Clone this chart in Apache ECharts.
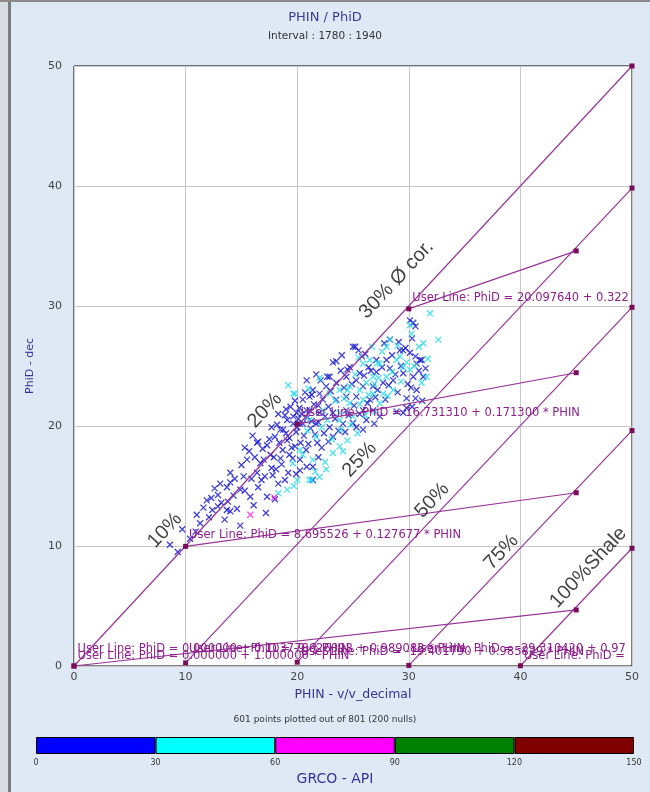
<!DOCTYPE html>
<html>
<head>
<meta charset="utf-8">
<script src="https://cdn.jsdelivr.net/npm/echarts@6.0.0/dist/echarts.min.js"></script>
<style>
html, body { margin: 0; padding: 0; background: #dfe9f5; }
#main { width: 650px; height: 792px; }
</style>
</head>
<body>
<div id="main"></div>
<script>
// GRCO 0-30 (blue)
var blueData = [
[8.6,10.1],[9.3,9.5],[9.7,11.4],[10.4,10.6],[11.3,11.9],[11.6,13.2],[12.1,12.4],[12.3,14.0],[12.6,14.8],[12.9,14.25],
[12.9,13.3],[13.2,13.6],[13.7,13.0],[13.7,14.9],[13.8,13.7],[14.0,12.9],[14.0,15.3],[14.0,16.1],[14.3,14.2],[14.9,11.7],
[14.9,14.7],[15.0,16.75],[15.2,15.8],[15.7,17.9],[15.8,14.1],[16.4,16.1],[16.4,18.6],[16.5,14.9],[16.5,18.7],[16.7,16.9],
[17.2,12.75],[17.3,14.1],[17.3,18.4],[17.6,17.6],[17.7,16.5],[17.7,19.9],[17.9,17.4],[18.0,19.1],[18.2,20.1],[18.3,15.2],
[18.4,18.6],[18.5,17.3],[18.5,19.7],[18.7,18.0],[18.75,19.7],[18.9,15.5],[18.9,20.9],[19.0,19.4],[19.1,18.8],[19.1,20.5],
[19.2,16.1],[19.3,17.6],[19.4,21.6],[19.5,18.2],[19.65,20.2],[19.65,20.8],[19.8,18.3],[19.8,22.1],[19.9,19.5],[19.95,21.1],
[20.1,20.6],[20.2,21.5],[20.25,16.3],[20.25,17.2],[20.25,20.2],[20.5,20.2],[20.5,22.2],[20.6,19.2],[20.8,18.0],[20.85,16.6],
[20.85,21.3],[20.85,23.8],[20.9,20.7],[21.1,21.3],[21.1,22.45],[21.2,19.8],[21.3,22.6],[21.4,15.5],[21.4,16.6],[21.4,23.0],
[21.5,21.8],[21.7,20.2],[21.8,18.6],[21.9,20.3],[22.0,21.1],[22.0,22.7],[22.3,22.2],[22.4,19.4],[22.6,23.3],[22.7,24.1],
[22.9,19.9],[22.9,24.1],[23.2,19.1],[23.2,21.1],[23.2,25.3],[23.5,22.2],[23.5,23.6],[23.5,25.4],[24.1,20.2],[24.4,21.3],
[24.4,22.45],[24.4,24.1],[24.5,24.7],[24.7,24.9],[25.0,20.25],[25.0,26.6],[25.2,26.6],[25.3,19.9],[25.3,22.45],[25.3,23.8],
[25.5,26.3],[25.6,24.4],[25.9,19.7],[25.9,21.3],[25.9,23.3],[26.2,20.5],[26.4,24.9],[26.5,22.2],[26.8,21.3],[26.8,23.3],
[27.1,24.5],[27.1,25.5],[27.2,23.0],[27.7,23.6],[28.0,25.5],[28.3,24.8],[28.3,27.2],[28.6,23.8],[29.2,26.3],[29.5,21.1],
[29.5,24.4],[29.5,26.3],[29.7,26.5],[29.8,21.5],[29.8,22.3],[30.1,26.1],[30.1,28.8],[30.4,24.1],[30.4,28.6],[30.6,22.3],
[30.6,25.8],[30.6,28.3],[30.7,23.0],[30.7,25.2],[31.0,25.5],[31.15,25.5],[31.3,24.1],
[10.9,11.2],[11.0,12.6],[11.9,13.8],[12.4,13.0],[13.1,15.2],[13.5,12.2],[14.4,15.6],[14.6,13.1],[15.3,14.6],[15.5,17.2],
[15.9,15.6],[16.1,13.4],[16.2,17.4],[16.8,15.5],[16.9,18.1],[17.0,17.2],[17.1,15.8],[17.5,18.9],[17.8,15.9],[18.1,16.4],
[18.3,21.0],[18.6,16.8],[19.0,21.4],[19.3,19.0],[19.6,17.3],[20.0,19.9],[20.3,18.6],[20.4,21.0],[20.7,22.8],[21.0,18.5],
[21.3,20.4],[21.6,19.3],[21.9,21.7],[22.2,18.2],[22.5,20.8],[22.8,21.6],[23.0,22.9],[23.4,20.6],[23.7,19.6],[23.9,24.6],
[24.2,23.2],[24.6,20.9],[24.9,23.5],[25.1,21.7],[25.6,21.0],[25.8,25.8],[26.0,24.2],[26.3,21.9],[26.6,24.6],[27.0,22.4],
[27.4,20.8],[27.6,24.9],[27.9,22.2],[28.2,23.4],[28.5,25.9],[28.8,24.3],[29.0,22.8],[29.3,25.0],[29.9,23.5],[30.2,23.2],
[30.9,24.6],[31.5,24.8],[22.1,23.8],[21.7,24.3],[24.0,25.9],[26.1,26.0],[27.8,26.9],[29.1,27.0],[30.3,27.3],[18.0,13.9],
[19.9,16.0],[21.9,17.4],[22.8,18.7],[24.3,19.5],[26.9,20.2],[28.9,21.2],[31.2,22.1],[30.3,21.6],[16.0,19.2],[15.3,18.2]
];
// GRCO 30-60 (cyan)
var cyanData = [
[19.1,14.7],[19.2,23.4],[19.6,16.9],[19.65,22.7],[19.8,22.7],[20.0,15.5],[20.25,18.0],[21.1,15.5],[21.1,20.5],[21.3,15.5],
[21.4,17.2],[21.7,19.1],[22.0,15.75],[22.3,21.3],[22.5,17.0],[22.7,20.5],[22.9,22.7],[23.2,17.75],[23.8,18.3],[23.8,20.5],
[23.8,21.1],[23.8,23.0],[24.5,18.8],[24.5,23.0],[24.7,21.9],[24.7,23.3],[25.0,20.8],[25.4,19.4],[25.6,23.0],[25.9,22.2],
[25.9,25.2],[26.2,23.6],[26.5,25.5],[26.8,22.7],[26.8,24.1],[27.2,25.25],[27.4,21.9],[27.4,25.2],[27.7,22.7],[28.0,24.1],
[28.0,26.6],[28.3,27.2],[28.6,23.0],[28.9,25.5],[29.2,25.8],[29.5,24.9],[30.1,24.7],[30.1,28.4],[30.25,27.7],[31.15,23.6],
[31.6,24.1],[31.9,29.4],[32.65,27.2],
[20.5,17.6],[20.9,19.6],[21.6,16.2],[22.2,19.9],[22.6,16.4],[23.1,18.9],[23.4,22.1],[23.9,19.7],[24.2,22.3],[24.8,20.1],
[25.2,24.3],[25.6,21.8],[26.1,20.9],[26.4,22.6],[26.9,23.5],[27.3,24.0],[27.6,26.2],[28.1,22.5],[28.5,24.5],[29.0,26.7],
[29.3,23.7],[29.8,25.3],[30.5,25.0],[30.9,26.6],[31.3,26.9],[31.7,25.6],[22.0,24.0],[21.0,23.1],[25.5,25.7],[26.7,26.6],
[18.3,14.4],[19.7,15.0],[24.1,17.9],[27.0,21.2]
];
// GRCO 60-90 (magenta)
var magentaData = [[15.8,12.6],[17.95,14.05]];

// user lines: start point, end point, label
var lineStart = [[30,29.76],[20,20.16],[10,9.97],[0,0],[0,0],[10,0.26],[20,0.32],[30,0.05],[40,0.02]];
var lineEnd = [[45,34.59],[45,24.44],[45,14.44],[45,4.67],[50,50],[50,39.83],[50,29.89],[50,19.62],[50,9.81]];
var lineText = [
  'User Line: PhiD = 20.097640 + 0.322039 * PHIN',
  'User Line: PhiD = 16.731310 + 0.171300 * PHIN',
  'User Line: PhiD = 8.695526 + 0.127677 * PHIN',
  'User Line: PhiD = 0.000000 + 0.103778 * PHIN',
  'User Line: PhiD = 0.000000 + 1.000000 * PHIN',
  'User Line: PhiD = -9.626098 + 0.989082 * PHIN',
  'User Line: PhiD = -19.401790 + 0.985829 * PHIN',
  'User Line: PhiD = -29.310420 + 0.978650 * PHIN',
  'User Line: PhiD = -39.184650 + 0.979980 * PHIN'
];
var lineLabelDy = [-11, -11, -11, -17, -10, -14, -10, -16, -10];

// rotated annotations
var annoText = ['10%', '20%', '25%', '30% Ø cor.', '50%', '75%', '100%Shale'];
var annoX = [8.15, 17.1, 25.6, 28.9, 32.1, 38.3, 46.1];
var annoY = [11.3, 21.3, 17.2, 32.2, 13.8, 9.5, 8.2];

// GRCO colour bar
var grLimits = [0, 30, 60, 90, 120, 150];
var grColors = ['#0000ff', '#00ffff', '#ff00ff', '#008000', '#800000'];

var plotLeft = 74, plotTop = 66, plotW = 558, plotH = 600;
var crossPath = 'path://M0,0L10,10M10,0L0,10';
var lineColor = '#973597';
var markColor = '#7a0a5a';

var myChart = echarts.init(document.getElementById('main'));

var series = [];
function scatterSeries(data, col) {
    return {
        type: 'scatter',
        data: data,
        symbol: crossPath,
        symbolSize: 6,
        itemStyle: { color: 'none', borderColor: col, borderWidth: 1.3 },
        z: 2
    };
}
series.push(scatterSeries(blueData, '#1010d0'));
series.push(scatterSeries(cyanData, '#1fdbe6'));
series.push(scatterSeries(magentaData, '#ff22d0'));

for (var i = 0; i < lineStart.length; i++) {
    var sx = plotLeft + lineStart[i][0] / 50 * plotW;
    series.push({
        type: 'line',
        z: 4,
        symbol: 'rect',
        symbolSize: 5,
        showAllSymbol: true,
        lineStyle: { color: lineColor, width: 1.2 },
        itemStyle: { color: markColor },
        data: [
            {
                value: lineStart[i],
                label: {
                    show: true,
                    position: 'right',
                    distance: 1,
                    offset: [0, lineLabelDy[i]],
                    formatter: lineText[i],
                    color: '#8e1f8e',
                    fontSize: 11.5,
                    fontFamily: 'DejaVu Sans',
                    width: plotLeft + plotW - sx - 2,
                    overflow: 'truncate',
                    ellipsis: ''
                }
            },
            lineEnd[i]
        ]
    });
}

var annoData = [];
for (var j = 0; j < annoText.length; j++) {
    annoData.push({ name: annoText[j], value: [annoX[j], annoY[j]] });
}
series.push({
    type: 'scatter',
    symbolSize: 0,
    z: 6,
    data: annoData,
    label: {
        show: true,
        position: 'inside',
        formatter: '{b}',
        rotate: 47,
        color: '#111',
        fontSize: 20,
        fontFamily: 'Liberation Sans'
    }
});

for (var k = 0; k < grColors.length; k++) {
    series.push({
        type: 'bar',
        xAxisIndex: 1,
        yAxisIndex: 1,
        stack: 'gr',
        barWidth: 17,
        data: [grLimits[k + 1] - grLimits[k]],
        itemStyle: { color: grColors[k], borderColor: '#000', borderWidth: 1 }
    });
}

myChart.setOption({
    animation: false,
    backgroundColor: '#dfe9f5',
    title: [
        {
            text: 'PHIN / PhiD',
            subtext: 'Interval : 1780 : 1940',
            left: 'center',
            top: 6,
            itemGap: 7,
            textStyle: { color: '#3a3a9c', fontSize: 13, fontWeight: 'normal', fontFamily: 'DejaVu Sans' },
            subtextStyle: { color: '#333', fontSize: 10.5, fontFamily: 'DejaVu Sans' }
        },
        {
            text: '601 points plotted out of 801 (200 nulls)',
            left: 'center',
            top: 710,
            textStyle: { color: '#333', fontSize: 9, fontWeight: 'normal', fontFamily: 'DejaVu Sans' }
        }
    ],
    graphic: [
        { type: 'rect', shape: { x: 0, y: 0, width: 8, height: 792 }, style: { fill: '#d8dde3' } },
        { type: 'rect', shape: { x: 8, y: 0, width: 3, height: 792 }, style: { fill: '#7c7c7c' } },
        { type: 'rect', shape: { x: 0, y: 0, width: 650, height: 2 }, style: { fill: '#8a8a8a' } }
    ],
    grid: [
        { left: plotLeft, top: plotTop, width: plotW, height: plotH, show: true, backgroundColor: '#fff', borderColor: '#000', borderWidth: 1 },
        { left: 36, top: 737, width: 598, height: 17 }
    ],
    xAxis: [
        {
            type: 'value', min: 0, max: 50, interval: 10,
            name: 'PHIN - v/v_decimal', nameLocation: 'middle', nameGap: 22,
            nameTextStyle: { color: '#34349a', fontSize: 12.5, fontFamily: 'DejaVu Sans' },
            axisLine: { show: false }, axisTick: { show: false },
            axisLabel: { color: '#444', fontSize: 11, margin: 6, fontFamily: 'DejaVu Sans' },
            splitLine: { lineStyle: { color: '#c8c8c8' } }
        },
        {
            type: 'value', gridIndex: 1, min: 0, max: 150, interval: 30,
            name: 'GRCO - API', nameLocation: 'middle', nameGap: 18,
            nameTextStyle: { color: '#34349a', fontSize: 14, fontFamily: 'DejaVu Sans' },
            axisLine: { show: false }, axisTick: { show: false }, splitLine: { show: false },
            axisLabel: { color: '#333', fontSize: 8, margin: 5, fontFamily: 'DejaVu Sans' }
        }
    ],
    yAxis: [
        {
            type: 'value', min: 0, max: 50, interval: 10,
            name: 'PhiD - dec', nameLocation: 'middle', nameGap: 38,
            nameTextStyle: { color: '#34349a', fontSize: 11, fontFamily: 'DejaVu Sans' },
            axisLine: { show: false }, axisTick: { show: false },
            axisLabel: { color: '#444', fontSize: 11, margin: 12, fontFamily: 'DejaVu Sans' },
            splitLine: { lineStyle: { color: '#c8c8c8' } }
        },
        { type: 'category', gridIndex: 1, data: ['GRCO'], show: false }
    ],
    series: series
});
</script>
</body>
</html>
